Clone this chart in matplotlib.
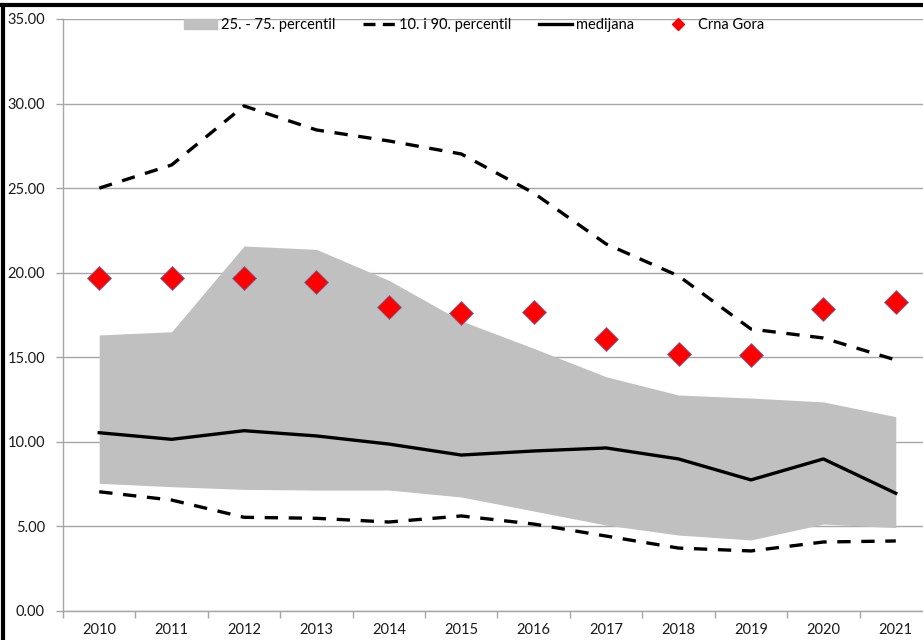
"""Percentile band chart: 25-75 band, 10/90 dashed, median line, Crna Gora markers."""
import matplotlib
matplotlib.use("Agg")
import matplotlib.pyplot as plt
import matplotlib.lines as mlines
import matplotlib.patches as mpatches
from matplotlib.ticker import FixedLocator, MultipleLocator

years = ["2010", "2011", "2012", "2013", "2014", "2015",
         "2016", "2017", "2018", "2019", "2020", "2021"]

p25 = [7.55, 7.35, 7.19, 7.15, 7.15, 6.74, 5.91, 5.08, 4.49, 4.20, 5.14, 4.93]
p75 = [16.32, 16.51, 21.58, 21.38, 19.55, 17.15, 15.53, 13.85, 12.77, 12.59, 12.36, 11.49]
p10 = [7.05, 6.56, 5.54, 5.48, 5.26, 5.62, 5.14, 4.43, 3.72, 3.55, 4.08, 4.14]
p90 = [25.00, 26.37, 29.86, 28.44, 27.79, 27.02, 24.71, 21.70, 19.81, 16.67, 16.14, 14.84]
median = [10.54, 10.15, 10.66, 10.35, 9.87, 9.22, 9.46, 9.64, 8.99, 7.75, 8.99, 6.96]
crna_gora = [19.67, 19.67, 19.71, 19.47, 17.99, 17.60, 17.70, 16.08, 15.19, 15.14, 17.86, 18.25]

BAND = "#c0c0c0"
GRID = "#a6a6a6"
RED = "#ff0000"
FONT = "Lato"

fig = plt.figure(figsize=(9.23, 6.4), dpi=100)
ax = fig.add_axes([63 / 923, 29 / 640, 869 / 923, 592 / 640])

x = list(range(len(years)))
ax.fill_between(x, p25, p75, color=BAND, linewidth=0, zorder=1)
ax.plot(x, p10, color="black", lw=2.4, dashes=(4, 3.2), zorder=3)
ax.plot(x, p90, color="black", lw=2.4, dashes=(4, 3.2), zorder=3)
ax.plot(x, median, color="black", lw=2.4, zorder=3)
ax.plot(x, crna_gora, linestyle="none", marker="D", markersize=12,
        markerfacecolor=RED, markeredgecolor="#7070a0", markeredgewidth=0.6, zorder=4)

ax.set_xlim(-0.5, len(years) - 0.5)
ax.set_ylim(0, 35)
ax.yaxis.set_major_locator(MultipleLocator(5))
ax.set_yticklabels([f"{v:.2f}" for v in ax.get_yticks()])
ax.set_xticks(x)
ax.set_xticklabels(years)
ax.xaxis.set_minor_locator(FixedLocator([i - 0.5 for i in range(len(years) + 1)]))
ax.tick_params(axis="x", which="major", length=0, pad=9)
ax.tick_params(axis="x", which="minor", length=5, color=GRID, width=1)
ax.tick_params(axis="y", length=5, color=GRID, width=1, pad=8)
for lab in ax.get_xticklabels() + ax.get_yticklabels():
    lab.set_fontfamily(FONT)
    lab.set_fontsize(10.5)
    lab.set_color("#1a1a1a")

ax.grid(axis="y", color=GRID, lw=1, zorder=0)
ax.set_axisbelow(True)
for side in ("top", "right"):
    ax.spines[side].set_visible(False)
for side in ("left", "bottom"):
    ax.spines[side].set_color(GRID)
    ax.spines[side].set_linewidth(1)

handles = [
    mpatches.Patch(color=BAND, label="25. - 75. percentil"),
    mlines.Line2D([], [], color="black", lw=2.4, dashes=(3.6, 2.2), label="10. i 90. percentil"),
    mlines.Line2D([], [], color="black", lw=2.4, label="medijana"),
    mlines.Line2D([], [], linestyle="none", marker="D", markersize=6,
                  markerfacecolor=RED, markeredgecolor=RED, label="Crna Gora"),
]
ax.legend(handles=handles, loc="upper center", bbox_to_anchor=(0.4735, 1.024), ncol=4,
          frameon=False, handlelength=2.2, columnspacing=1.9, handletextpad=0.3,
          prop={"family": FONT, "size": 10.5})

# outer frame of the original screenshot
fig.add_artist(mlines.Line2D([0, 1], [1 - 5 / 640] * 2, color="black", lw=3,
                             transform=fig.transFigure))
fig.add_artist(mlines.Line2D([2.5 / 923] * 2, [0, 1 - 5 / 640], color="black", lw=3,
                             transform=fig.transFigure))

fig.savefig("out.png", dpi=100)
plt.close(fig)
